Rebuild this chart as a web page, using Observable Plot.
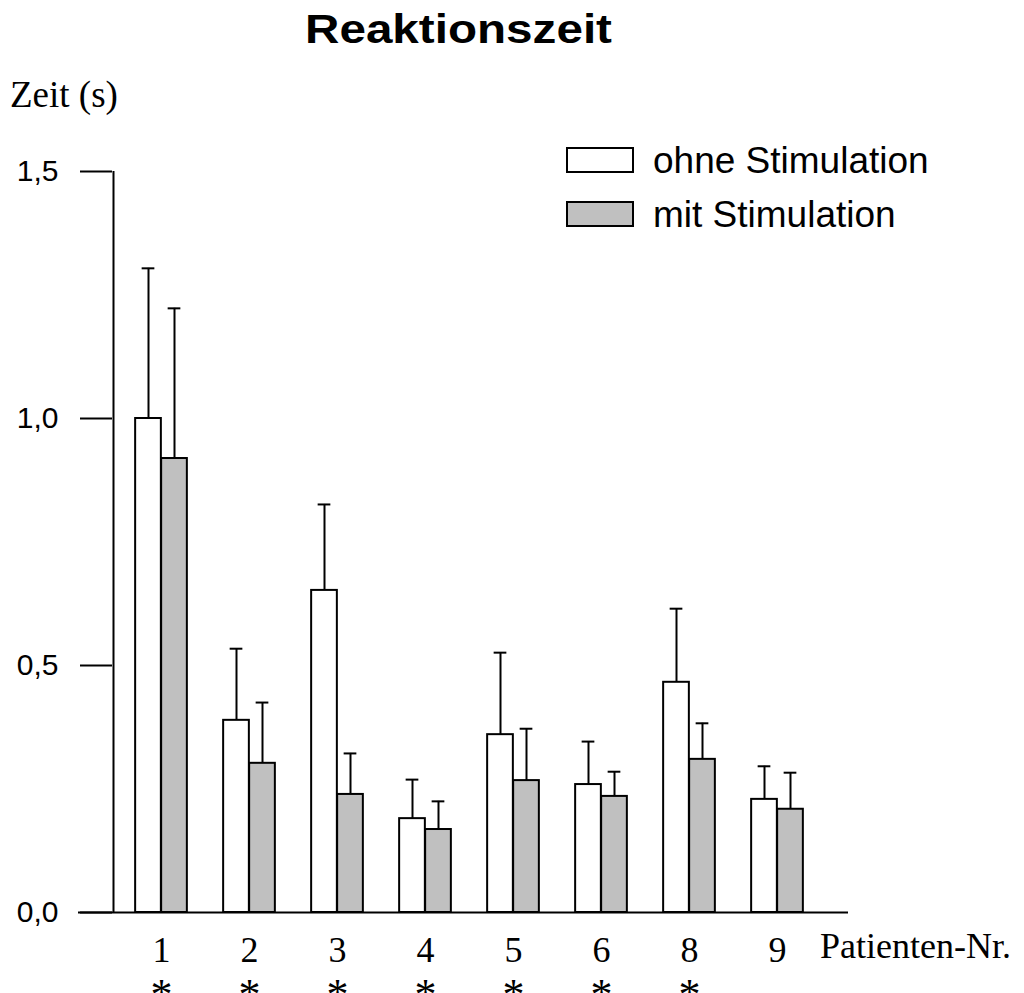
<!DOCTYPE html>
<html><head><meta charset="utf-8">
<script src="https://cdn.jsdelivr.net/npm/d3@7"></script>
<script src="https://cdn.jsdelivr.net/npm/@observablehq/plot@0.6"></script>
<style>body{margin:0;background:#fff}#chart{position:relative;width:1024px;height:993px}</style>
</head><body><div id="chart"></div>
<script>
// Data
const patients = ["1", "2", "3", "4", "5", "6", "8", "9"];
const ohneMean = [1.000, 0.389, 0.652, 0.190, 0.360, 0.259, 0.466, 0.229];
const ohneSD   = [0.304, 0.145, 0.174, 0.079, 0.166, 0.087, 0.149, 0.067];
const mitMean  = [0.919, 0.302, 0.239, 0.168, 0.267, 0.235, 0.310, 0.209];
const mitSD    = [0.304, 0.123, 0.083, 0.057, 0.105, 0.050, 0.073, 0.074];
const significant = [true, true, true, true, true, true, true, false];
const yTicks = [0, 0.5, 1.0, 1.5];
const seriesNames = ["ohne Stimulation", "mit Stimulation"];

const ohneRows = patients.map((p, i) => ({patient: p, value: ohneMean[i], upper: ohneMean[i] + ohneSD[i]}));
const mitRows  = patients.map((p, i) => ({patient: p, value: mitMean[i], upper: mitMean[i] + mitSD[i]}));
const starRows = patients.filter((p, i) => significant[i]).map(p => ({patient: p}));

// Layout
const W = 1024, H = 993, mL = 112, mR = 198, mT = 171, mB = 81;
const pad = 0.0437;
const step = (W - mL - mR) / (patients.length + 2 * pad);
const half = step / 2;
const barW = 26, cap = 6.5;
const grey = "#c0c0c0";
const serif = "'Liberation Serif', 'Times New Roman', serif";
const sans = "'Liberation Sans', Arial, sans-serif";

const plot = Plot.plot({
  width: W, height: H,
  marginLeft: mL, marginRight: mR, marginTop: mT, marginBottom: mB,
  style: {fontFamily: sans, fontSize: "30px", color: "black", background: "white"},
  x: {domain: patients, paddingInner: 0, paddingOuter: pad, align: 0.5, label: null},
  y: {domain: [0, 1.5], label: null},
  marks: [
    Plot.barY(ohneRows, {x: "patient", y: "value", fill: "white", stroke: "black", strokeWidth: 2,
      insetLeft: half - barW, insetRight: half}),
    Plot.barY(mitRows, {x: "patient", y: "value", fill: grey, stroke: "black", strokeWidth: 2,
      insetLeft: half, insetRight: half - barW}),
    Plot.ruleX(ohneRows, {x: "patient", y1: "value", y2: "upper", dx: -barW / 2, stroke: "black", strokeWidth: 2}),
    Plot.tickY(ohneRows, {x: "patient", y: "upper", dx: -barW / 2, insetLeft: half - cap, insetRight: half - cap, stroke: "black", strokeWidth: 2}),
    Plot.ruleX(mitRows, {x: "patient", y1: "value", y2: "upper", dx: barW / 2, stroke: "black", strokeWidth: 2}),
    Plot.tickY(mitRows, {x: "patient", y: "upper", dx: barW / 2, insetLeft: half - cap, insetRight: half - cap, stroke: "black", strokeWidth: 2}),
    Plot.ruleY([0], {insetLeft: -34, insetRight: -22, stroke: "black", strokeWidth: 2}),
    Plot.ruleX([patients[0]], {x: d => d, y1: 0, y2: 1.5, dx: -(pad * step + half), stroke: "black", strokeWidth: 2}),
    Plot.axisY({ticks: yTicks, tickSize: 32, tickPadding: 22, strokeWidth: 2, label: null,
      tickFormat: d => d.toFixed(1).replace(".", ","), fontSize: 30}),
    Plot.axisX({tickSize: 0, tickPadding: 24, label: null, fontSize: 36, fontFamily: serif}),
    Plot.text(starRows, {x: "patient", text: () => "*", frameAnchor: "bottom", dy: 96, fontSize: 44,
      fontFamily: serif, fill: "black"})
  ]
});

document.getElementById("chart").appendChild(plot);

// Title, axis titles and legend
const svg = d3.select(plot);
svg.append("text").text("Reaktionszeit")
  .attr("x", 305).attr("y", 43).attr("text-anchor", "start")
  .attr("textLength", 307).attr("lengthAdjust", "spacingAndGlyphs")
  .style("font", "bold 41px " + sans).attr("fill", "black");
svg.append("text").text("Zeit (s)")
  .attr("x", 10).attr("y", 107).attr("text-anchor", "start")
  .style("font", "37px " + serif).attr("fill", "black");
svg.append("text").text("Patienten-Nr.")
  .attr("x", 820).attr("y", 958).attr("text-anchor", "start")
  .style("font", "36px " + serif).attr("fill", "black");
const legendFills = ["white", grey];
const legendY = [148, 202];
seriesNames.forEach((name, i) => {
  svg.append("rect").attr("x", 567).attr("y", legendY[i]).attr("width", 66).attr("height", 24)
    .attr("fill", legendFills[i]).attr("stroke", "black").attr("stroke-width", 2);
  svg.append("text").text(name).attr("x", 653).attr("y", legendY[i] + 25).attr("text-anchor", "start")
    .style("font", "37px " + sans).attr("fill", "black");
});
</script>
</body></html>
